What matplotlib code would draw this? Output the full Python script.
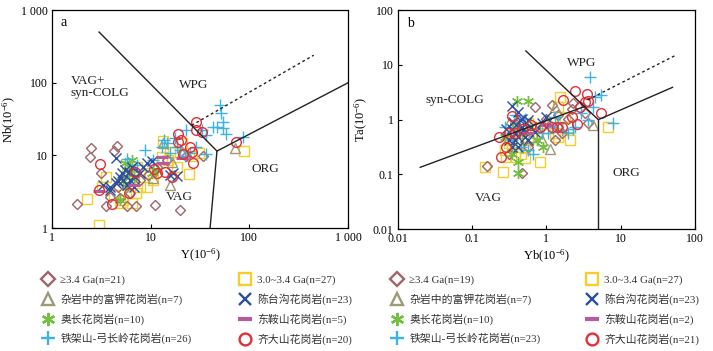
import matplotlib
matplotlib.use('Agg')
import matplotlib.pyplot as plt
from matplotlib.lines import Line2D

plt.rcParams['font.family'] = ['Liberation Serif', 'Noto Sans CJK SC', 'DejaVu Sans']
plt.rcParams['mathtext.fontset'] = 'custom'
plt.rcParams['mathtext.rm'] = 'Liberation Serif'

# ---- panel a: Y vs Nb ----
dia_a_x = [1.79, 2.48, 2.40, 4.2, 4.6, 3.5, 19.9, 11.1, 7.1, 34, 4.7, 6.2, 7.8, 11.5, 3.9, 3.1, 23, 5.7, 14.5, 9.5, 4.9]
dia_a_y = [2.16, 12.6, 9.5, 11.7, 13.7, 2.0, 1.8, 2.05, 2.0, 9.9, 3.7, 3.0, 4.6, 7.0, 2.7, 5.7, 9.7, 2.0, 8.7, 5.4, 2.6]
sq_a_x = [2.26, 3.0, 3.55, 4.9, 7.05, 9.1, 13.3, 17, 24.5, 31, 88, 5.7, 6.7, 15, 4.2, 5.3, 9.8, 13, 18.3, 7.8, 3.2, 21, 26, 7.2, 10.6, 6.4, 15.7]
sq_a_y = [2.5, 1.1, 5.0, 2.2, 3.0, 3.66, 16, 11.3, 5.6, 10.7, 11.7, 5.7, 4.4, 8.7, 2.9, 2.45, 5.7, 9.6, 7.0, 3.7, 3.7, 14.7, 9.7, 7.0, 4.6, 2.2, 11.3]
tri_a_x = [71, 15.7, 16.3, 13.3, 10.6, 6.7, 20.6]
tri_a_y = [12.6, 3.9, 8.1, 14.7, 4.9, 6.3, 10.7]
x_a_x = [4.5, 3.9, 4.9, 5.5, 6.45, 7.8, 9.1, 3.3, 5.3, 6.9, 17, 15.7, 18.3, 4.7, 6.0, 3.9, 4.4, 5.1, 6.7, 8.4, 5.7, 10.3, 6.2]
x_a_y = [9.2, 3.7, 5.1, 6.3, 7.0, 5.7, 7.8, 3.9, 4.6, 5.1, 5.7, 5.4, 5.2, 4.4, 6.0, 3.4, 4.15, 5.7, 3.7, 7.0, 3.9, 8.3, 4.6]
star_a_x = [5.5, 6.2, 6.0, 6.7, 5.3, 11.5, 10.3, 4.9, 6.45, 5.7]
star_a_y = [7.8, 7.0, 5.7, 5.1, 4.4, 6.3, 5.7, 2.45, 8.7, 3.7]
bar_a_x = [13, 13.4, 6.7, 2.96, 20.6]
bar_a_y = [9.6, 7.8, 3.9, 3.2, 9.2]
plus_a_x = [50, 52, 54, 46.5, 54, 58.6, 86, 33, 23, 13.5, 13, 8.8, 15.7, 18.3, 29, 36.8, 5.7, 7.2, 25, 14.5, 19.8, 22.3, 43, 17.7, 36.8, 10.6]
plus_a_y = [49, 38, 29, 25, 23.7, 20, 18.2, 22.4, 22.4, 16.3, 13.2, 11.9, 10.7, 13.2, 13.2, 10.5, 8.9, 7.4, 10.7, 14.7, 11.9, 9.7, 25, 17.2, 19.2, 8.7]
cir_a_x = [3.03, 3.0, 4.05, 6.05, 6.95, 10.9, 14, 16.4, 19, 19, 21.5, 25, 26, 29, 29, 33, 74, 27, 20.5, 11.5]
cir_a_y = [7.65, 3.3, 2.16, 3.0, 6.0, 6.45, 6.0, 5.1, 15.5, 20, 10.5, 13.2, 11.3, 29.3, 22.4, 21.2, 15.5, 7.8, 16.3, 5.7]

# ---- panel b: Yb vs Ta ----
dia_b_x = [0.157, 0.465, 0.70, 1.18, 1.3, 2.2, 3.65, 3.3, 1.97, 2.3, 1.45, 0.86, 1.6, 0.34, 0.31, 0.38, 0.57, 1.0, 1.45]
dia_b_y = [0.145, 0.105, 1.67, 1.85, 0.42, 1.6, 0.86, 1.3, 1.05, 1.98, 1.21, 0.74, 0.56, 0.56, 0.24, 0.86, 0.32, 1.05, 0.74]
sq_b_x = [0.15, 0.26, 0.82, 0.52, 2.1, 1.53, 1.45, 6.8, 0.57, 0.38, 0.29, 0.34, 0.52, 0.63, 1.45, 0.42, 0.31, 0.46, 0.78, 1.18, 1.3, 1.79, 0.28, 0.70, 0.38, 0.57, 1.97]
sq_b_y = [0.135, 0.11, 0.167, 0.2, 0.42, 2.6, 1.7, 0.74, 0.86, 0.56, 0.21, 0.32, 0.32, 0.49, 0.49, 0.37, 0.37, 0.24, 0.56, 0.86, 0.56, 1.13, 0.28, 0.74, 0.21, 0.43, 0.74]
tri_b_x = [4.3, 1.3, 1.12, 0.38, 0.31, 0.63, 0.86]
tri_b_y = [0.8, 1.7, 0.29, 0.8, 0.86, 0.49, 0.42]
x_b_x = [0.34, 0.42, 0.36, 0.47, 0.57, 0.38, 0.42, 0.31, 0.34, 0.49, 0.57, 0.63, 0.86, 1.0, 0.42, 0.47, 0.52, 0.38, 0.34, 0.70, 0.29, 0.54, 0.44]
x_b_y = [1.78, 1.4, 0.92, 1.05, 0.99, 0.56, 0.49, 0.42, 0.69, 0.65, 0.42, 0.74, 0.86, 1.13, 0.32, 0.74, 0.49, 0.42, 0.32, 0.6, 0.69, 0.86, 0.99]
star_b_x = [0.40, 0.57, 0.42, 0.42, 0.34, 0.74, 0.91, 0.47, 0.38, 0.28]
star_b_y = [2.2, 2.2, 0.105, 0.17, 0.24, 0.42, 0.32, 0.56, 0.74, 0.49]
bar_b_x = [0.57, 1.0]
bar_b_y = [0.56, 0.8]
plus_b_x = [3.9, 4.5, 5.5, 4.3, 2.97, 2.4, 2.3, 1.6, 1.45, 1.3, 8.0, 0.67, 0.52, 0.38, 0.86, 1.18, 0.46, 0.57, 0.34, 1.97, 1.06, 0.28, 3.65]
plus_b_y = [6.0, 2.6, 2.8, 1.7, 1.3, 0.74, 0.69, 0.65, 0.86, 1.13, 0.86, 0.24, 1.05, 1.21, 0.56, 0.74, 0.32, 0.28, 0.42, 0.56, 0.56, 0.74, 0.99]
cir_b_x = [0.245, 0.29, 0.34, 0.31, 0.38, 0.47, 0.63, 0.82, 1.18, 1.38, 1.6, 1.7, 2.2, 2.4, 2.56, 3.3, 2.8, 3.65, 5.5, 3.5, 0.23]
cir_b_y = [0.21, 0.32, 1.17, 0.56, 0.56, 0.69, 0.8, 0.74, 0.74, 0.74, 0.74, 2.3, 1.13, 3.35, 0.83, 2.1, 1.7, 2.2, 1.35, 3.0, 0.49]

labels_a = ['≥3.4 Ga(n=21)', '杂岩中的富钾花岗岩(n=7)', '奥长花岗岩(n=10)', '铁架山-弓长岭花岗岩(n=26)',
            '3.0~3.4 Ga(n=27)', '陈台沟花岗岩(n=23)', '东鞍山花岗岩(n=5)', '齐大山花岗岩(n=20)']
labels_b = ['≥3.4 Ga(n=19)', '杂岩中的富钾花岗岩(n=7)', '奥长花岗岩(n=10)', '铁架山-弓长岭花岗岩(n=23)',
            '3.0~3.4 Ga(n=27)', '陈台沟花岗岩(n=23)', '东鞍山花岗岩(n=2)', '齐大山花岗岩(n=21)']

# marker styles: diamond, triangle, star, plus, square, x, bar, circle
styles = [dict(marker='D', color='#a0646a', ms=5.5),
          dict(marker='^', color='#9c9a78', ms=7),
          dict(marker=(6, 2, 0), color='#74c043', ms=8),
          dict(marker='+', color='#3cb2e6', ms=8.5),
          dict(marker='s', color='#f2cf2a', ms=7),
          dict(marker='x', color='#2b4f9e', ms=7),
          dict(marker='_', color='#b85aa0', ms=8),
          dict(marker='o', color='#e0303a', ms=7)]
HOLLOW = ('D', '^', 's', 'o')

def scatter(ax, xs, ys, st):
    ax.plot(xs, ys, ls='none', marker=st['marker'], ms=st['ms'],
            mfc='none' if st['marker'] in HOLLOW else st['color'], mec=st['color'],
            mew=2.2 if st['marker'] == '_' else 1.0)

fig = plt.figure(figsize=(7.13, 3.51), dpi=100)
axa = fig.add_axes([0.073, 0.35, 0.415, 0.621])
axb = fig.add_axes([0.558, 0.347, 0.4166, 0.624])

series_a = [(dia_a_x, dia_a_y), (tri_a_x, tri_a_y), (star_a_x, star_a_y), (plus_a_x, plus_a_y),
            (sq_a_x, sq_a_y), (x_a_x, x_a_y), (bar_a_x, bar_a_y), (cir_a_x, cir_a_y)]
series_b = [(dia_b_x, dia_b_y), (tri_b_x, tri_b_y), (star_b_x, star_b_y), (plus_b_x, plus_b_y),
            (sq_b_x, sq_b_y), (x_b_x, x_b_y), (bar_b_x, bar_b_y), (cir_b_x, cir_b_y)]
for i in [4, 0, 1, 2, 3, 5, 6, 7]:
    scatter(axa, *series_a[i], styles[i])
    scatter(axb, *series_b[i], styles[i])

# discrimination boundaries
lk = dict(color='#222222', lw=1.0)
axa.plot([3, 47, 1000], [500, 11.5, 100], **lk)
axa.plot([40, 47], [1, 11.5], **lk)
axa.plot([26, 450], [26, 240], color='#222222', lw=1.0, ls=(0, (2, 2)))

axb.plot([0.02, 3.3], [0.135, 1.75], **lk)
axb.plot([0.53, 5, 50], [18, 1, 3.9], **lk)
axb.plot([5, 5], [0.01, 1], **lk)
axb.plot([3.6, 55], [2.3, 15], color='#222222', lw=1.0, ls=(0, (2, 2)))

tf = dict(fontsize=9.5, color='#222222')
axa.text(1.55, 89, 'VAG+\nsyn-COLG', va='center', ha='left', linespacing=1.0, **tf)
axa.text(27, 93, 'WPG', ha='center', va='center', **tf)
axa.text(19.4, 2.7, 'VAG', ha='center', va='center', **tf)
axa.text(144, 6.5, 'ORG', ha='center', va='center', **tf)
axa.text(0.04, 0.945, 'a', transform=axa.transAxes, ha='center', va='center', fontsize=10)

axb.text(0.059, 2.3, 'syn-COLG', ha='center', va='center', **tf)
axb.text(3.0, 10.7, 'WPG', ha='center', va='center', **tf)
axb.text(0.166, 0.037, 'VAG', ha='center', va='center', **tf)
axb.text(12, 0.105, 'ORG', ha='center', va='center', **tf)
axb.text(0.041, 0.94, 'b', transform=axb.transAxes, ha='center', va='center', fontsize=10)

for ax in (axa, axb):
    ax.set_xscale('log')
    ax.set_yscale('log')
    ax.minorticks_off()
    ax.tick_params(direction='in', length=3, width=0.8, labelsize=8.5, pad=3)
    for s in ax.spines.values():
        s.set_linewidth(0.9)

axa.set_xlim(1, 1000)
axa.set_ylim(1, 1000)
axa.set_xticks([1, 10, 100, 1000])
axa.set_xticklabels(['1', '10', '100', '1 000'])
axa.set_yticks([1, 10, 100, 1000])
axa.set_yticklabels(['1', '10', '100', '1 000'])
axa.set_xlabel('$\\mathrm{Y(10^{-6})}$', fontsize=9, labelpad=2)
axa.set_ylabel('$\\mathrm{Nb(10^{-6})}$', fontsize=9, labelpad=2)

axb.set_xlim(0.01, 100)
axb.set_ylim(0.01, 100)
axb.set_xticks([0.01, 0.1, 1, 10, 100])
axb.set_xticklabels(['0.01', '0.1', '1', '10', '100'])
axb.set_yticks([0.01, 0.1, 1, 10, 100])
axb.set_yticklabels(['0.01', '0.1', '1', '10', '100'])
axb.set_xlabel('$\\mathrm{Yb(10^{-6})}$', fontsize=9, labelpad=2)
axb.set_ylabel('$\\mathrm{Ta(10^{-6})}$', fontsize=9, labelpad=2)

W, H = 713.0, 351.0

def legend_col(labels, sts, xpix):
    handles = [Line2D([], [], ls='none', marker=st['marker'], ms=st['ms'] + 1.5,
                      mfc='none' if st['marker'] in HOLLOW else st['color'], mec=st['color'],
                      mew=3 if st['marker'] == '_' else 1.7) for st in sts]
    leg = fig.legend(handles, labels, loc='upper left', bbox_to_anchor=((xpix - 5) / W, 1 - 275 / H),
                     frameon=False, fontsize=7.8, handlelength=1.0, handletextpad=0.6,
                     labelspacing=0.78, borderpad=0, borderaxespad=0)
    for t in leg.get_texts():
        t.set_color('#333333')

legend_col(labels_a[:4], styles[:4], 48)
legend_col(labels_a[4:], styles[4:], 245)
legend_col(labels_b[:4], styles[:4], 397)
legend_col(labels_b[4:], styles[4:], 592)

fig.savefig('out.png', dpi=100, facecolor='white')
